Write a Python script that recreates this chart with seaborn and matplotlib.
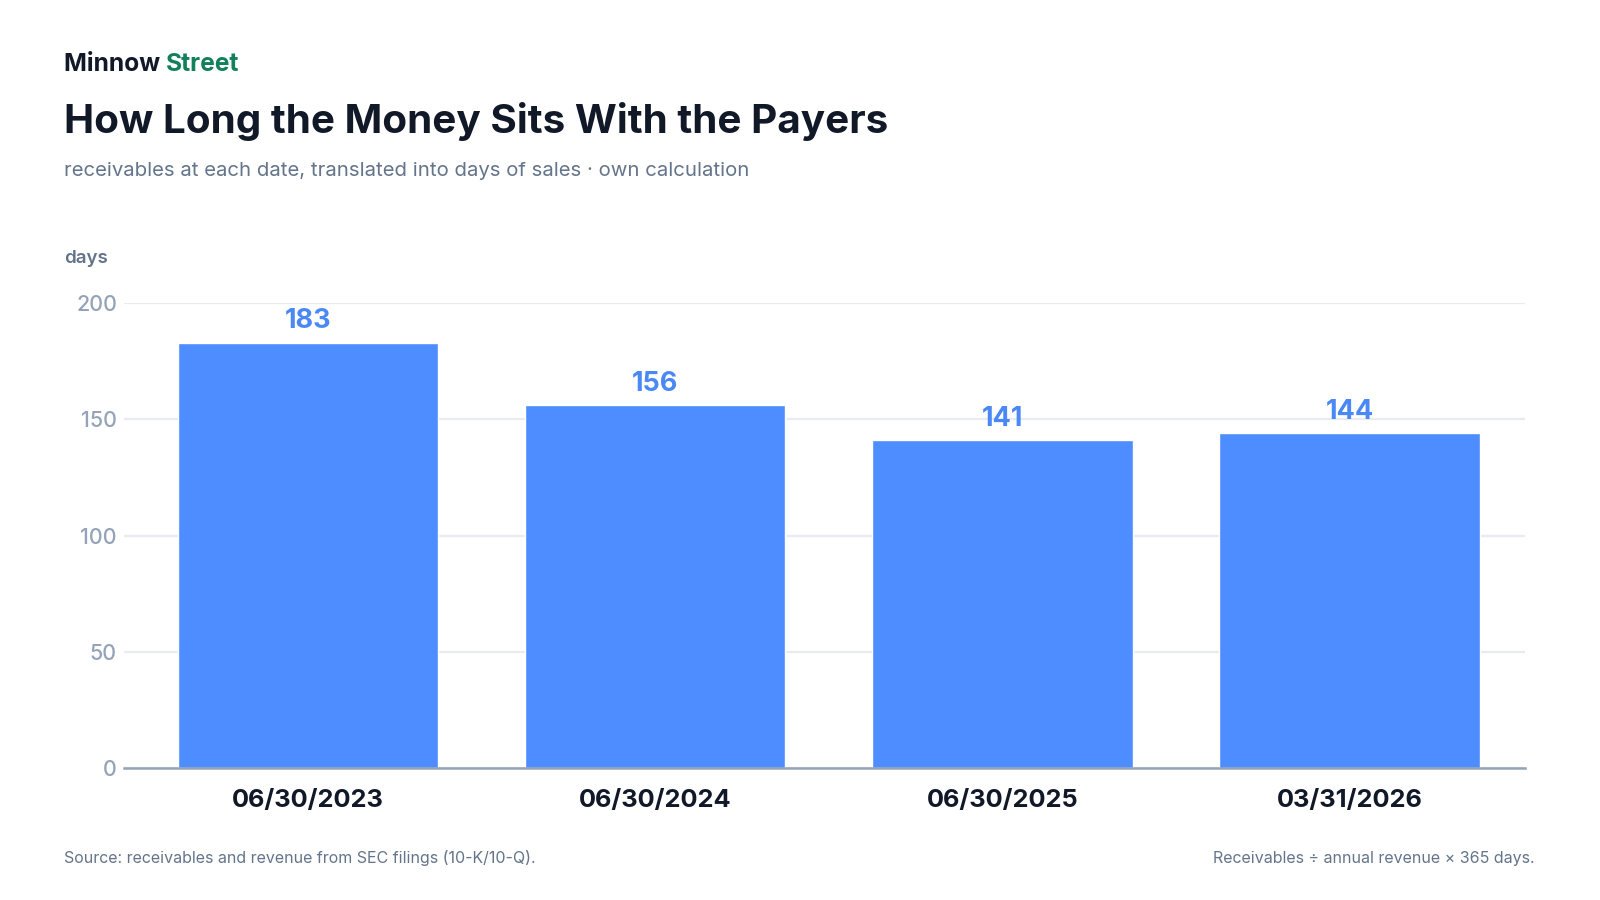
import matplotlib
matplotlib.use("Agg")
import matplotlib.pyplot as plt
import seaborn as sns
import pandas as pd

# ---- data ----
dates = ["06/30/2023", "06/30/2024", "06/30/2025", "03/31/2026"]
days_of_sales = [183, 156, 141, 144]
y_ticks = [0, 50, 100, 150, 200]

brand_left = "Minnow"
brand_right = "Street"
title = "How Long the Money Sits With the Payers"
subtitle = "receivables at each date, translated into days of sales · own calculation"
y_unit = "days"
source_note = "Source: receivables and revenue from SEC filings (10-K/10-Q)."
method_note = "Receivables ÷ annual revenue × 365 days."

# ---- style ----
sns.set_theme(style="white")
plt.rcParams["font.family"] = ["Inter", "DejaVu Sans"]

BAR = "#4d8dff"
LABEL = "#4a88f5"
DARK = "#111827"
GREEN = "#13805c"
GRAY = "#64748b"
TICK = "#94a3b8"
GRID = "#e8ebf0"

W, H = 1600, 900
fig = plt.figure(figsize=(16, 9), dpi=100)
fig.patch.set_facecolor("white")

ax_left, ax_right, ax_top, ax_bottom = 124, 1525, 303, 768
ax = fig.add_axes([ax_left / W, 1 - ax_bottom / H,
                   (ax_right - ax_left) / W, (ax_bottom - ax_top) / H])

df = pd.DataFrame({"date": dates, "days": days_of_sales})
sns.barplot(data=df, x="date", y="days", color=BAR, width=0.75,
            saturation=1, ax=ax, zorder=3)

ax.set_ylim(0, 200)
ax.set_xlim(-0.53, 3.505)
ax.set_yticks(y_ticks)
ax.set_yticklabels([str(t) for t in y_ticks])
ax.yaxis.grid(True, color=GRID, linewidth=1.6, zorder=0)
ax.set_axisbelow(True)
for s in ["top", "right", "left"]:
    ax.spines[s].set_visible(False)
ax.spines["bottom"].set_color(TICK)
ax.spines["bottom"].set_linewidth(1.8)
ax.spines["bottom"].set_zorder(4)
ax.tick_params(axis="y", length=0, pad=5, labelsize=15.5, labelcolor=TICK)
ax.tick_params(axis="x", length=0, pad=15, labelsize=18.3, labelcolor=DARK)
for lbl in ax.get_yticklabels():
    lbl.set_fontweight("medium")
for lbl in ax.get_xticklabels():
    lbl.set_fontweight("bold")
ax.set_xlabel("")
ax.set_ylabel("")

for cont in ax.containers:
    ax.bar_label(cont, labels=[str(v) for v in days_of_sales], padding=6,
                 fontsize=19.5, fontweight="bold", color=LABEL)

def ftext(x, y, s, **kw):
    return fig.text(x / W, 1 - y / H, s, va="baseline", **kw)

t1 = ftext(64, 71, brand_left + " ", fontsize=17.7, fontweight="bold", color=DARK)
fig.canvas.draw()
bb = t1.get_window_extent()
ftext(bb.x1, 71, brand_right, fontsize=17.7, fontweight="bold", color=GREEN)
ftext(64, 133, title, fontsize=29.1, fontweight="bold", color=DARK)
ftext(64, 176, subtitle, fontsize=14.65, color=GRAY)
ftext(64, 263, y_unit, fontsize=13.5, fontweight="semibold", color=GRAY)
ftext(64, 863, source_note, fontsize=11.5, color=GRAY)
ftext(1535, 863, method_note, fontsize=11.5, color=GRAY, ha="right")

fig.savefig("out.png", dpi=100, facecolor="white")
